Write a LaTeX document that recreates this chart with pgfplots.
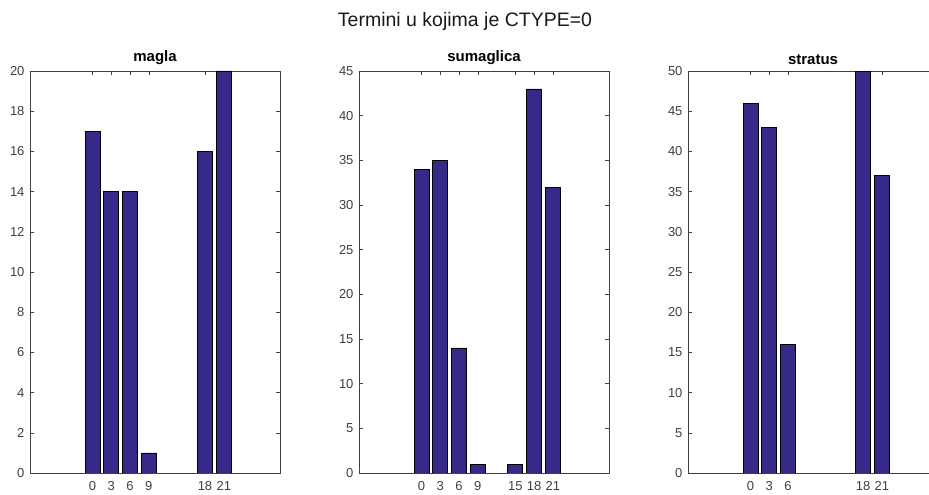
\documentclass[border=0pt]{standalone}
\usepackage{fontspec}
\setmainfont{Liberation Sans}
\usepackage{pgfplots}
\pgfplotsset{compat=1.18}
\definecolor{barblue}{RGB}{53,42,135}
\definecolor{axgray}{RGB}{64,64,64}
\pgfplotsset{
  mlbar/.style={
    scale only axis, width=250pt, height=402pt,
    anchor=south west,
    ybar, bar width=2.4, bar shift=0pt,
    xmin=-10, xmax=30, ymin=0,
    xtick=data,
    tick align=inside, tick pos=both,
    major tick length=4pt,
    axis line style={axgray},
    tick style={axgray, line width=0.5pt},
    ticklabel style={font=\fontsize{13}{15}\selectfont, text=axgray},
    xticklabel style={yshift=-5pt},
    yticklabel style={xshift=-2pt},
    /pgf/number format/assume math mode=true,
    title style={font=\bfseries\fontsize{15}{17}\selectfont, yshift=-3pt},
  },
  mlfill/.style={fill=barblue, draw=black, line width=0.6pt},
}
\begin{document}
\begin{tikzpicture}[x=1pt,y=1pt]
\useasboundingbox (0,0) rectangle (929,495);
\clip (0,0) rectangle (929,495);
\node[font=\fontsize{19.5}{22}\selectfont, text=black!90] at (465,474) {Termini u kojima je CTYPE=0};

\begin{axis}[mlbar, at={(30pt,22pt)}, title={magla}, ymax=20, ytick={0,2,...,20}]
\addplot[mlfill] coordinates {(0,17) (3,14) (6,14) (9,1) (18,16) (21,20)};
\end{axis}

\begin{axis}[mlbar, at={(359pt,22pt)}, title={sumaglica}, ymax=45, ytick={0,5,...,45}]
\addplot[mlfill] coordinates {(0,34) (3,35) (6,14) (9,1) (15,1) (18,43) (21,32)};
\end{axis}

\begin{axis}[mlbar, at={(688pt,22pt)}, title={stratus}, ymax=50, ytick={0,5,...,50}]
\addplot[mlfill] coordinates {(0,46) (3,43) (6,16) (18,50) (21,37)};
\end{axis}
\end{tikzpicture}
\end{document}
